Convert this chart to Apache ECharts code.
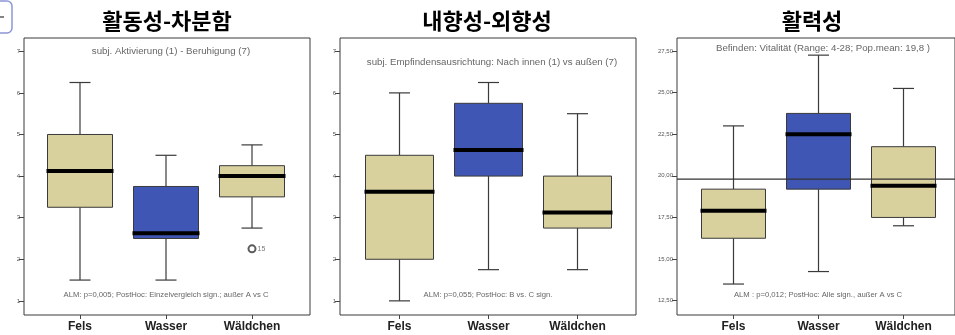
<!DOCTYPE html>
<html>
<head>
<meta charset="utf-8">
<script src="https://cdn.jsdelivr.net/npm/echarts@6/dist/echarts.min.js"></script>
<style>
  html, body { margin: 0; padding: 0; background: #fff; }
  #chart { width: 955px; height: 335px; }
</style>
</head>
<body>
<div id="chart"></div>
<script>
// ---- data ----
const categories = ['Fels', 'Wasser', 'Wäldchen'];

// [min, Q1, median, Q3, max] per category
const activityBoxes = [
  [1.5, 3.25, 4.125, 5.0, 6.25],
  [1.5, 2.5, 2.625, 3.75, 4.5],
  [2.75, 3.5, 4.0, 4.25, 4.75]
];
const activityOutliers = [[2, 2.25, '15']];

const orientationBoxes = [
  [1.0, 2.0, 3.625, 4.5, 6.0],
  [1.75, 4.0, 4.625, 5.75, 6.25],
  [1.75, 2.75, 3.125, 4.0, 5.5]
];

const vitalityBoxes = [
  [13.5, 16.25, 17.9, 19.2, 23.0],
  [14.25, 19.2, 22.5, 23.75, 27.25],
  [17.0, 17.5, 19.4, 21.75, 25.25]
];
const vitalityPopMean = 19.8;

const scaleTicks = [1, 2, 3, 4, 5, 6, 7];
const vitalityTicks = [12.5, 15, 17.5, 20, 22.5, 25, 27.5];

const panelTitles = ['활동성-차분함', '내향성-외향성', '활력성'];
const panelSubtitles = [
  'subj. Aktivierung (1) - Beruhigung (7)',
  'subj. Empfindensausrichtung: Nach innen (1) vs außen (7)',
  'Befinden: Vitalität (Range: 4-28; Pop.mean: 19,8 )'
];
const panelNotes = [
  'ALM: p=0,005; PostHoc: Einzelvergleich sign.; außer A vs C',
  'ALM: p=0,055; PostHoc: B vs. C sign.',
  'ALM : p=0,012; PostHoc: Alle sign., außer A vs C'
];

// ---- layout & style ----
const LATIN = '"Liberation Sans", Arial, sans-serif';
const KOREAN = '"Noto Sans CJK KR", sans-serif';
const boxColors = ['#d8d19e', '#3f56b4', '#d8d19e'];
const FRAME_TOP = 38, FRAME_H = 277;

const panels = [
  { frameLeft: 24, frameWidth: 286, dataLeft: 37, dataWidth: 258, boxW: 65,
    min: 0.66, max: 7.32, ticks: scaleTicks, boxes: activityBoxes,
    titleX: 167, subX: 171, subY: 51, noteX: 166, fmt: v => String(v) },
  { frameLeft: 340, frameWidth: 296, dataLeft: 355, dataWidth: 267, boxW: 68,
    min: 0.66, max: 7.32, ticks: scaleTicks, boxes: orientationBoxes,
    titleX: 487, subX: 492, subY: 62, noteX: 488, fmt: v => String(v) },
  { frameLeft: 677, frameWidth: 300, dataLeft: 691, dataWidth: 255, boxW: 64,
    min: 11.64, max: 28.28, ticks: vitalityTicks, boxes: vitalityBoxes,
    titleX: 812, subX: 823, subY: 48, noteX: 818, fmt: v => v.toFixed(2).replace('.', ',') }
];

const grid = [], xAxis = [], yAxis = [], series = [], graphic = [];

// frame grids (0..2)
panels.forEach((p, i) => {
  grid.push({ left: p.frameLeft, top: FRAME_TOP, width: p.frameWidth, height: FRAME_H,
    show: true, borderColor: '#3a3a3a', borderWidth: 1, backgroundColor: '#fff' });
  xAxis.push({ type: 'value', gridIndex: i, min: 0, max: 1, show: false });
  yAxis.push({ type: 'value', gridIndex: i, min: p.min, max: p.max, show: false });
});

// data grids (3..5)
panels.forEach((p, i) => {
  const g = i + 3;
  grid.push({ left: p.dataLeft, top: FRAME_TOP, width: p.dataWidth, height: FRAME_H });
  xAxis.push({
    type: 'category', gridIndex: g, data: categories,
    axisLine: { show: false },
    axisTick: { show: true, alignWithLabel: true, length: 4, lineStyle: { color: '#444' } },
    axisLabel: { margin: 6, fontFamily: LATIN, fontWeight: 'bold', fontSize: 12, color: '#222' }
  });
  yAxis.push({
    type: 'value', gridIndex: g, min: p.min, max: p.max,
    offset: p.dataLeft - p.frameLeft,
    axisLine: { show: false },
    splitLine: { show: false },
    axisTick: { show: true, length: 5, customValues: p.ticks, lineStyle: { color: '#444' } },
    axisLabel: { customValues: p.ticks, margin: 4, fontSize: 6, fontFamily: LATIN, color: '#555',
      formatter: p.fmt }
  });

  const boxW = p.boxW, capW = 21;
  series.push({
    type: 'custom', xAxisIndex: g, yAxisIndex: g,
    encode: { x: 0, y: [1, 2, 3, 4, 5] },
    data: p.boxes.map((b, k) => [k].concat(b)),
    renderItem: function (params, api) {
      const x = api.value(0);
      const pt = k => api.coord([x, api.value(k)]);
      const pMin = pt(1), pQ1 = pt(2), pMed = pt(3), pQ3 = pt(4), pMax = pt(5);
      const xc = pMin[0];
      const wStyle = { stroke: '#3a3a3a', lineWidth: 1.2 };
      return {
        type: 'group',
        children: [
          { type: 'line', shape: { x1: xc, y1: pQ1[1], x2: xc, y2: pMin[1] }, style: wStyle },
          { type: 'line', shape: { x1: xc, y1: pQ3[1], x2: xc, y2: pMax[1] }, style: wStyle },
          { type: 'line', shape: { x1: xc - capW / 2, y1: pMin[1], x2: xc + capW / 2, y2: pMin[1] }, style: wStyle },
          { type: 'line', shape: { x1: xc - capW / 2, y1: pMax[1], x2: xc + capW / 2, y2: pMax[1] }, style: wStyle },
          { type: 'rect', shape: { x: xc - boxW / 2, y: pQ3[1], width: boxW, height: pQ1[1] - pQ3[1] },
            style: { fill: boxColors[params.dataIndex], stroke: '#3a3a3a', lineWidth: 1 } },
          { type: 'line', shape: { x1: xc - boxW / 2 - 1, y1: pMed[1], x2: xc + boxW / 2 + 1, y2: pMed[1] },
            style: { stroke: '#000', lineWidth: 4 } }
        ]
      };
    },
    z: 3
  });

  graphic.push(
    { type: 'text', x: p.titleX, y: 21, z: 10,
      style: { text: panelTitles[i], font: 'bold 22px ' + KOREAN, fill: '#000',
        align: 'center', verticalAlign: 'middle', textAlign: 'center', textVerticalAlign: 'middle' } },
    { type: 'text', x: p.subX, y: p.subY, z: 10,
      style: { text: panelSubtitles[i], font: '9.7px ' + LATIN, fill: '#666',
        align: 'center', verticalAlign: 'middle', textAlign: 'center', textVerticalAlign: 'middle' } },
    { type: 'text', x: p.noteX, y: 295, z: 10,
      style: { text: panelNotes[i], font: '7.7px ' + LATIN, fill: '#666',
        align: 'center', verticalAlign: 'middle', textAlign: 'center', textVerticalAlign: 'middle' } }
  );
});

// outlier in the first panel
series.push({
  type: 'scatter', xAxisIndex: 3, yAxisIndex: 3,
  data: activityOutliers.map(o => ({ value: [o[0], o[1]], name: o[2] })),
  symbol: 'circle', symbolSize: 7,
  itemStyle: { color: '#fff', borderColor: '#333', borderWidth: 2 },
  label: { show: true, position: 'right', distance: 1, formatter: d => d.name,
    fontSize: 7, fontFamily: LATIN, color: '#555' },
  z: 5
});

// population mean reference line across the third frame
series.push({
  type: 'line', xAxisIndex: 2, yAxisIndex: 2,
  data: [[0, vitalityPopMean], [1, vitalityPopMean]],
  symbol: 'none', lineStyle: { color: '#333', width: 1.2 }, z: 6, silent: true
});

// cut-off button at the left edge
graphic.push(
  { type: 'rect', shape: { x: -20, y: 1, width: 32, height: 32, r: 5 },
    style: { fill: '#fff', stroke: '#8d97d8', lineWidth: 1.5 }, z: 10 },
  { type: 'line', shape: { x1: 0, y1: 17, x2: 4, y2: 17 },
    style: { stroke: '#333', lineWidth: 1.2 }, z: 11 }
);

const chart = echarts.init(document.getElementById('chart'), null, { renderer: 'canvas' });
chart.setOption({
  animation: false,
  backgroundColor: '#fff',
  grid, xAxis, yAxis, series, graphic
});
</script>
</body>
</html>
